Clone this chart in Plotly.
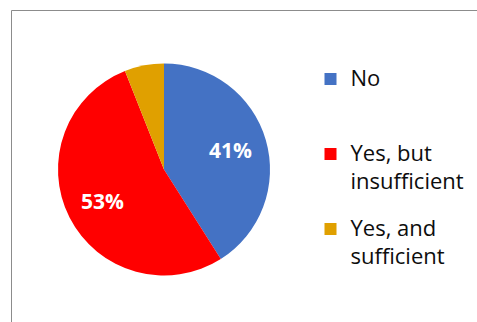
import math
import textwrap

import plotly.graph_objects as go

# Survey answers and their share of respondents (percent)
categories = ["No", "Yes, but insufficient", "Yes, and sufficient"]
shares = [41, 53, 6]
colors = ["#4472C4", "#FF0000", "#E0A000"]

W, H = 477, 322
FONT = "Open Sans"
TEXT_PX = 22          # legend text size
LABEL_PX = 21         # size of the percentage labels on the slices
LABEL_RADIUS = 0.65   # where slice labels sit, as a fraction of the radius

# The legend is laid out on a grid of thin rows, so the gap between the
# wrapped lines of one entry and the gap between entries can differ.
ROW_PX = 5.54
ROWS_PER_LINE = 5
ROWS_PER_ENTRY = 13


def legend_label(name):
    # a leading empty row keeps the swatch level with the first text line
    rows = [""]
    for i, line in enumerate(textwrap.wrap(name, 12)):
        if i:
            rows += [""] * (ROWS_PER_LINE - 1)
        rows.append(f"<span style='font-size:{TEXT_PX}px'>{line}</span>")
    rows += [""] * (ROWS_PER_ENTRY - len(rows))
    return "<br>".join(rows)


def px_x(v):
    return v / W


def px_y(v):
    return 1 - v / H


# pie centred at (164, 169.5) px with a 106 px radius
cx, cy, r = 164, 169.5, 106

fig = go.Figure(
    go.Pie(
        labels=[legend_label(c) for c in categories],
        values=shares,
        customdata=categories,
        textinfo="none",
        marker=dict(colors=colors, line=dict(width=0)),
        sort=False,
        direction="clockwise",
        rotation=0,
        domain=dict(x=[px_x(cx - r), px_x(cx + r)], y=[px_y(cy + r), px_y(cy - r)]),
        hovertemplate="%{customdata}: %{value}%<extra></extra>",
    )
)

# percentage labels at the middle angle of each slice (small slices unlabelled)
total = sum(shares)
start = 0.0
annotations = []
for v in shares:
    mid = 2 * math.pi * (start + v / 2) / total   # clockwise from 12 o'clock
    start += v
    if v < 10:
        continue
    annotations.append(
        dict(
            x=px_x(cx + LABEL_RADIUS * r * math.sin(mid)),
            y=px_y(cy - LABEL_RADIUS * r * math.cos(mid)),
            xref="paper",
            yref="paper",
            text=f"<b>{v}%</b>",
            showarrow=False,
            font=dict(family=FONT, size=LABEL_PX, color="white"),
            xanchor="center",
            yanchor="middle",
        )
    )

fig.update_layout(
    width=W,
    height=H,
    margin=dict(l=0, r=0, t=0, b=0),
    paper_bgcolor="white",
    plot_bgcolor="white",
    showlegend=True,
    legend=dict(
        x=px_x(310.5),
        y=px_y(69.7),
        xanchor="left",
        yanchor="top",
        valign="top",
        font=dict(family=FONT, size=ROW_PX / 1.3, color="#0d0d0d"),
        bgcolor="rgba(0,0,0,0)",
    ),
    annotations=annotations,
    shapes=[
        # chart-area border (its right and bottom edges fall outside the view)
        dict(
            type="rect",
            xref="paper",
            yref="paper",
            x0=px_x(11.5),
            x1=1.2,
            y0=-0.2,
            y1=px_y(10.5),
            line=dict(color="#8c8c8c", width=1),
            fillcolor="rgba(0,0,0,0)",
            layer="below",
        )
    ],
)

fig.write_html("out.html", config=dict(displayModeBar=False))
